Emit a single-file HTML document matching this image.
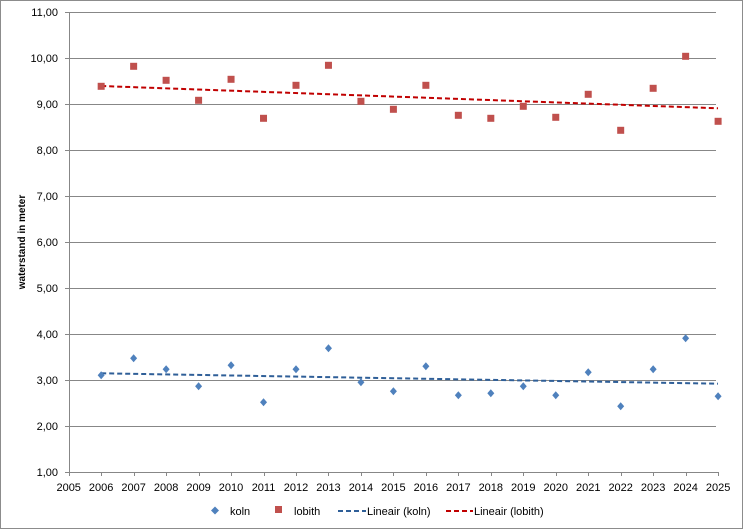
<!DOCTYPE html>
<html><head><meta charset="utf-8"><style>
html,body{margin:0;padding:0;background:#fff;}
svg{display:block;font-family:"Liberation Sans",Calibri,sans-serif;}
</style></head><body>
<svg width="744" height="531" viewBox="0 0 744 531" xmlns="http://www.w3.org/2000/svg">
<rect x="0.5" y="0.5" width="742" height="528" fill="#fff" stroke="#8c8c8c" stroke-width="1"/>
<g stroke="#878787" stroke-width="1">
<line x1="69.5" y1="12.5" x2="716" y2="12.5"/>
<line x1="69.5" y1="58.5" x2="716" y2="58.5"/>
<line x1="69.5" y1="104.5" x2="716" y2="104.5"/>
<line x1="69.5" y1="150.5" x2="716" y2="150.5"/>
<line x1="69.5" y1="196.5" x2="716" y2="196.5"/>
<line x1="69.5" y1="242.5" x2="716" y2="242.5"/>
<line x1="69.5" y1="288.5" x2="716" y2="288.5"/>
<line x1="69.5" y1="334.5" x2="716" y2="334.5"/>
<line x1="69.5" y1="380.5" x2="716" y2="380.5"/>
<line x1="69.5" y1="426.5" x2="716" y2="426.5"/>
<line x1="65" y1="472.5" x2="718" y2="472.5"/>
<line x1="69.5" y1="12" x2="69.5" y2="472"/>
<g id="yt">
<line x1="65" y1="12.5" x2="69" y2="12.5"/><line x1="65" y1="58.5" x2="69" y2="58.5"/><line x1="65" y1="104.5" x2="69" y2="104.5"/><line x1="65" y1="150.5" x2="69" y2="150.5"/><line x1="65" y1="196.5" x2="69" y2="196.5"/><line x1="65" y1="242.5" x2="69" y2="242.5"/><line x1="65" y1="288.5" x2="69" y2="288.5"/><line x1="65" y1="334.5" x2="69" y2="334.5"/><line x1="65" y1="380.5" x2="69" y2="380.5"/><line x1="65" y1="426.5" x2="69" y2="426.5"/>
</g>
</g>
<g id="xt" stroke="#878787"></g>
<g font-size="11" fill="#000" text-anchor="end">
<text x="58" y="16">11,00</text><text x="58" y="62">10,00</text><text x="58" y="108">9,00</text><text x="58" y="154">8,00</text><text x="58" y="200">7,00</text><text x="58" y="246">6,00</text><text x="58" y="292">5,00</text><text x="58" y="338">4,00</text><text x="58" y="384">3,00</text><text x="58" y="430">2,00</text><text x="58" y="476">1,00</text>
</g>
<text transform="translate(25,242) rotate(-90)" font-size="10" font-weight="bold" text-anchor="middle">waterstand in meter</text>
<g id="xl" font-size="11" text-anchor="middle"></g>
<line x1="101.2" y1="86" x2="718" y2="108.3" stroke="#c00000" stroke-width="2" stroke-dasharray="5,3"/>
<line x1="101.2" y1="373.3" x2="718" y2="383.7" stroke="#2f5f98" stroke-width="2" stroke-dasharray="5,3"/>
<g id="pts"></g>
<g font-size="11">
<path d="M215 506.5 L219 510.5 L215 514.5 L211 510.5Z" fill="#4f81bd"/>
<text x="230" y="515">koln</text>
<rect x="275" y="506" width="7" height="7" fill="#c0504d"/>
<text x="294" y="515">lobith</text>
<line x1="338" y1="511" x2="366" y2="511" stroke="#2f5f98" stroke-width="2" stroke-dasharray="5,3"/>
<text x="367" y="515">Lineair (koln)</text>
<line x1="446" y1="511" x2="473" y2="511" stroke="#c00000" stroke-width="2" stroke-dasharray="5,3"/>
<text x="474" y="515">Lineair (lobith)</text>
</g>
<script>
var ns="http://www.w3.org/2000/svg";
function X(y){return 68.7+32.47*(y-2005);}
var xl=document.getElementById("xl"),xt=document.getElementById("xt"),pts=document.getElementById("pts");
for(var y=2005;y<=2025;y++){
 var t=document.createElementNS(ns,"text");t.setAttribute("x",X(y));t.setAttribute("y",491);t.textContent=y;xl.appendChild(t);
 var l=document.createElementNS(ns,"line");var xx=Math.round(X(y))+0.5;l.setAttribute("x1",xx);l.setAttribute("x2",xx);l.setAttribute("y1",472);l.setAttribute("y2",476);xt.appendChild(l);
}
var lob=[86.3,66.3,80.3,100.3,79.3,118.3,85.3,65.3,101.3,109.3,85.3,115.3,118.3,106.3,117.3,94.3,130.3,88.3,56.3,121.3];
var kol=[375.3,358.3,369.3,386.3,365.3,402.3,369.3,348.3,382.3,391.3,366.3,395.3,393.3,386.3,395.3,372.3,406.3,369.3,338.3,396.3];
for(var i=0;i<20;i++){
 var x=X(2006+i);
 var r=document.createElementNS(ns,"rect");r.setAttribute("x",x-3.5);r.setAttribute("y",lob[i]-3.5);r.setAttribute("width",7);r.setAttribute("height",7);r.setAttribute("fill","#c0504d");pts.appendChild(r);
 var p=document.createElementNS(ns,"path");var k=kol[i];p.setAttribute("d","M"+x+" "+(k-4)+" L"+(x+3.5)+" "+k+" L"+x+" "+(k+4)+" L"+(x-3.5)+" "+k+"Z");p.setAttribute("fill","#4f81bd");pts.appendChild(p);
}
</script>
</svg>
</body></html>
